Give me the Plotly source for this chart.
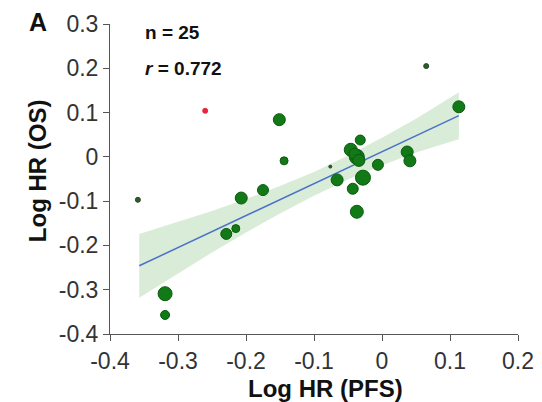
import plotly.graph_objects as go

# Study-level points: log HR (PFS), log HR (OS), marker diameter (px), type
log_hr_pfs = [-0.260, 0.065, 0.113, -0.151, -0.144, -0.076, -0.032, -0.046, -0.037, -0.006,
              0.037, 0.041, -0.066, -0.028, -0.043, -0.037, -0.359, -0.207, -0.175, -0.229,
              -0.215, -0.319, -0.319, -0.040, -0.034]
log_hr_os = [0.104, 0.205, 0.113, 0.084, -0.009, -0.022, 0.038, 0.016, 0.000, -0.018,
             0.011, -0.009, -0.052, -0.047, -0.072, -0.124, -0.097, -0.093, -0.075, -0.174,
             -0.162, -0.309, -0.357, 0.006, -0.008]
weights = [5, 5, 12, 12, 8, 3, 10, 13, 15, 11,
           12, 12, 12, 15, 11, 13, 5, 12, 11, 11,
           8, 14, 9, 12, 12]
point_kind = ["outlier", "small", "main", "main", "main", "small", "main", "main", "main", "main",
              "main", "main", "main", "main", "main", "main", "small", "main", "main", "main",
              "main", "main", "main", "main", "main"]

# Regression line and 95% band
band_x = [-0.357, -0.3, -0.25, -0.2, -0.15, -0.1, -0.05, 0.0, 0.05, 0.113]
fit_y = [-0.246, -0.205, -0.169, -0.133, -0.097, -0.061, -0.024, 0.012, 0.048, 0.093]
band_upper = [-0.174, -0.147, -0.122, -0.095, -0.066, -0.034, 0.003, 0.043, 0.086, 0.146]
band_lower = [-0.318, -0.263, -0.216, -0.171, -0.128, -0.088, -0.051, -0.019, 0.010, 0.040]

x_ticks = [-0.4, -0.3, -0.2, -0.1, 0, 0.1, 0.2]
x_tick_text = ["-0.4", "-0.3", "-0.2", "-0.1", "0", "0.1", "0.2"]
y_ticks = [-0.4, -0.3, -0.2, -0.1, 0, 0.1, 0.2, 0.3]
y_tick_text = ["-0.4", "-0.3", "-0.2", "-0.1", "0", "0.1", "0.2", "0.3"]

fill_colors = {"main": "#117a17", "small": "#2f5a2f", "outlier": "#e8243c"}
line_colors = {"main": "#0b5a0f", "small": "#244a24", "outlier": "#e8243c"}

fig = go.Figure()

fig.add_trace(go.Scatter(
    x=band_x + band_x[::-1],
    y=band_upper + band_lower[::-1],
    fill="toself", fillcolor="rgba(196,226,194,0.65)",
    line=dict(width=0), hoverinfo="skip", showlegend=False,
))
fig.add_trace(go.Scatter(
    x=band_x, y=fit_y, mode="lines",
    line=dict(color="#4a72c8", width=1.5), showlegend=False,
))
fig.add_trace(go.Scatter(
    x=log_hr_pfs, y=log_hr_os, mode="markers",
    marker=dict(
        size=weights,
        color=[fill_colors[k] for k in point_kind],
        line=dict(color=[line_colors[k] for k in point_kind], width=1),
        opacity=1,
    ),
    showlegend=False,
))

font_family = "Liberation Sans, Arial, sans-serif"

fig.update_layout(
    width=534, height=394,
    margin=dict(l=102, r=24, t=16, b=68),
    plot_bgcolor="white", paper_bgcolor="white",
    font=dict(family=font_family, color="#222"),
    xaxis=dict(
        range=[-0.4, 0.2], tickvals=x_ticks, ticktext=x_tick_text,
        showgrid=False, zeroline=False, showline=True, linecolor="#555", linewidth=1,
        ticks="outside", ticklen=6, tickcolor="#555", ticklabeloverflow="allow",
        tickfont=dict(size=23, color="#333"),
        automargin=False,
    ),
    yaxis=dict(
        range=[-0.4, 0.3], tickvals=y_ticks, ticktext=y_tick_text,
        showgrid=False, zeroline=False, showline=True, linecolor="#555", linewidth=1,
        ticks="outside", ticklen=6, tickcolor="#555", ticklabeloverflow="allow",
        tickfont=dict(size=23, color="#333"),
        automargin=False,
    ),
    annotations=[
        dict(text="<b>Log HR (PFS)</b>", xref="paper", yref="paper", x=0.527, y=-0.177,
             xanchor="center", yanchor="middle", showarrow=False,
             font=dict(size=24, color="#111")),
        dict(text="<b>Log HR (OS)</b>", xref="paper", yref="paper", x=-0.176, y=0.526,
             xanchor="center", yanchor="middle", showarrow=False, textangle=-90,
             font=dict(size=24, color="#111")),
        dict(text="<b>A</b>", xref="paper", yref="paper", x=-0.176, y=1.006,
             xanchor="center", yanchor="middle", showarrow=False,
             font=dict(size=25, color="#111")),
        dict(text="<b>n = 25</b>", xref="paper", yref="paper", x=0.081, y=0.971,
             xanchor="left", yanchor="middle", showarrow=False,
             font=dict(size=19, color="#111")),
        dict(text="<b><i>r</i> = 0.772</b>", xref="paper", yref="paper", x=0.081, y=0.858,
             xanchor="left", yanchor="middle", showarrow=False,
             font=dict(size=19, color="#111")),
    ],
)

fig.write_html("out.html")
